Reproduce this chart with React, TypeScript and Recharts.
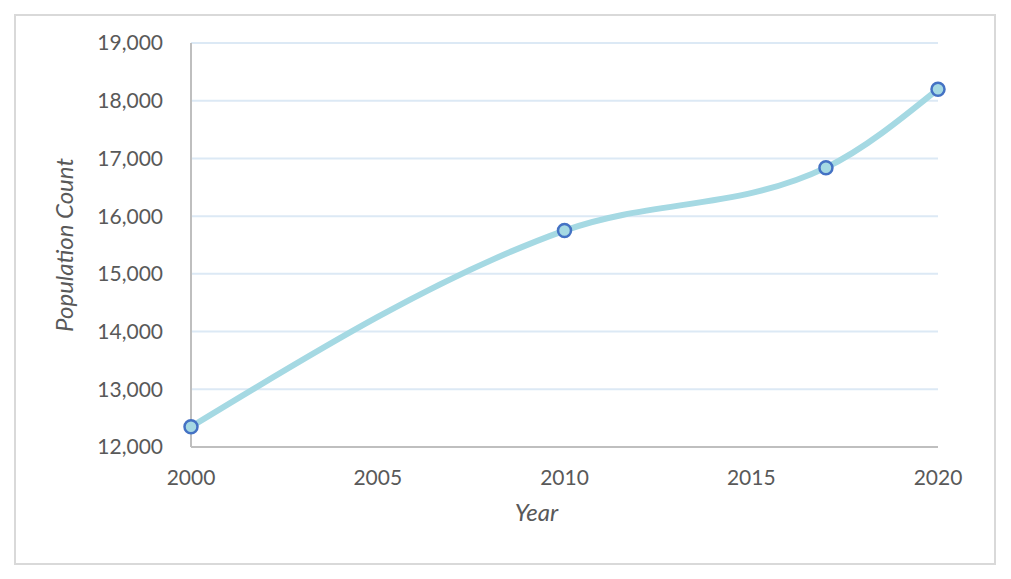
import { LineChart, Line, XAxis, YAxis, CartesianGrid, Label } from 'recharts'

const years = [2000, 2010, 2017, 2020]
const population = [12350, 15750, 16840, 18200]
const xTicks = [2000, 2005, 2010, 2015, 2020]
const yTicks = [12000, 13000, 14000, 15000, 16000, 17000, 18000, 19000]

const data = years.map((year, i) => ({ year, population: population[i] }))

const FONT = 'Lato, "Open Sans", sans-serif'
const TEXT = '#595959'

export default function App() {
    return (
        <div style={{ position: 'absolute', left: 0, top: 0, width: 1011, height: 579, background: '#fff', fontFamily: FONT }}>
            <div
                style={{
                    position: 'absolute', left: 14, top: 14, width: 978, height: 547,
                    border: '2px solid #d9d9d9', boxSizing: 'content-box',
                }}
            />
            <div style={{ position: 'absolute', left: 0, top: 0 }}>
                <LineChart
                    width={1011}
                    height={579}
                    data={data}
                    margin={{ top: 43, right: 73, bottom: 32, left: 0 }}
                >
                    <CartesianGrid vertical={false} stroke="#dce9f5" strokeWidth={2} />
                    <XAxis
                        dataKey="year"
                        type="number"
                        domain={[2000, 2020]}
                        ticks={xTicks}
                        axisLine={{ stroke: '#bfbfbf', strokeWidth: 2 }}
                        tickLine={false}
                        tickMargin={17}
                        tick={{ fill: TEXT, fontSize: 21, fontFamily: FONT }}
                        height={100}
                    >
                        <Label
                            value="Year"
                            position="insideTop"
                            offset={57}
                            dx={-28}
                            style={{ fill: TEXT, fontSize: 24, fontStyle: 'italic', fontFamily: FONT }}
                        />
                    </XAxis>
                    <YAxis
                        type="number"
                        domain={[12000, 19000]}
                        ticks={yTicks}
                        width={191}
                        axisLine={{ stroke: '#bfbfbf', strokeWidth: 2 }}
                        tickLine={false}
                        tickMargin={22}
                        tickFormatter={(v: number) => v.toLocaleString('en-US')}
                        tick={{ fill: TEXT, fontSize: 21, fontFamily: FONT }}
                    >
                        <Label
                            value="Population Count"
                            angle={-90}
                            position="insideLeft"
                            offset={64}
                            style={{ fill: TEXT, fontSize: 24, fontStyle: 'italic', fontFamily: FONT, textAnchor: 'middle' }}
                        />
                    </YAxis>
                    <Line
                        type="monotone"
                        dataKey="population"
                        stroke="#a5d9e3"
                        strokeWidth={6}
                        dot={{ r: 6.5, fill: '#a5d9e3', stroke: '#4472c4', strokeWidth: 2.5 }}
                        isAnimationActive={false}
                    />
                </LineChart>
            </div>
        </div>
    )
}
